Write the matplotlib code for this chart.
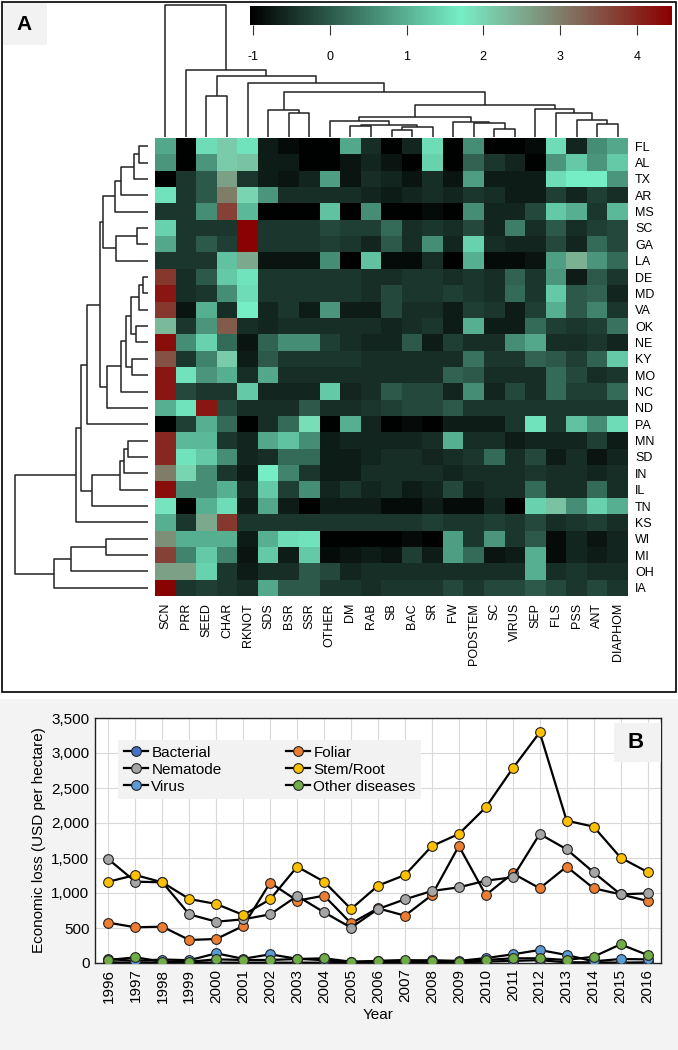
import matplotlib
matplotlib.use("Agg")
import matplotlib.pyplot as plt
import numpy as np
from matplotlib.colors import LinearSegmentedColormap, Normalize
from matplotlib.cm import ScalarMappable
from matplotlib.patches import Rectangle
from matplotlib.ticker import FuncFormatter

# ---------------- panel A data ----------------
diseases = ["SCN", "PRR", "SEED", "CHAR", "RKNOT", "SDS", "BSR", "SSR", "OTHER", "DM",
            "RAB", "SB", "BAC", "SR", "FW", "PODSTEM", "SC", "VIRUS", "SEP", "FLS",
            "PSS", "ANT", "DIAPHOM"]
states = ["FL", "AL", "TX", "AR", "MS", "SC", "GA", "LA", "DE", "MD", "VA", "OK", "NE",
          "KY", "MO", "NC", "ND", "PA", "MN", "SD", "IN", "IL", "TN", "KS", "WI", "MI",
          "OH", "IA"]

z = np.array([
    [0.9, -1.0, 1.5, 2.1, 1.6, -0.7, -0.9, -1.0, -1.0, 0.9, -0.5, -1.0, -0.6, 1.5, -1.0, 0.6, -1.0, -1.0, -0.9, 1.5, -0.6, 0.6, 0.9],
    [0.7, -1.0, 0.7, 2.1, 2.2, -0.7, -0.7, -1.0, -1.0, -0.8, -0.6, -0.8, -1.0, 1.4, -1.0, 0.1, -0.4, -0.6, -1.0, 0.7, 1.3, 0.7, 1.3],
    [-1.0, -0.4, 0.0, 2.6, -0.4, -0.7, -0.8, -0.6, 0.8, -0.8, -0.5, -0.6, -0.8, -0.5, -0.8, 0.8, -0.7, -0.7, -0.7, 1.5, 1.7, 1.7, 0.7],
    [1.6, -0.4, 0.0, 3.0, 2.0, 0.7, -0.5, -0.5, -0.5, -0.5, -0.6, -0.7, -0.6, -0.5, -0.6, -0.4, -0.5, -0.7, -0.7, -0.3, -0.6, -0.3, -0.5],
    [-0.4, -0.4, 0.6, 3.7, 1.1, -1.0, -1.0, -1.0, 1.2, -1.0, 0.6, -1.0, -1.0, -0.9, -1.0, 0.6, -0.6, -0.6, -0.2, 1.3, 1.0, -0.4, 1.1],
    [1.4, -0.4, -0.4, -0.4, 4.4, -0.4, -0.4, -0.4, -0.2, -0.3, -0.3, 0.2, -0.5, -0.4, -0.5, -0.2, -0.6, 0.4, -0.5, 0.0, -0.5, -0.3, -0.2],
    [0.9, -0.4, 0.0, -0.3, 4.4, -0.4, -0.4, -0.4, -0.3, -0.4, -0.6, 0.0, -0.5, 0.6, -0.6, 1.4, -0.5, -0.6, -0.6, -0.2, -0.6, 0.2, -0.2],
    [-0.4, -0.4, -0.4, 1.2, 2.5, -0.8, -0.8, -0.8, 0.6, -1.0, 1.2, -0.9, -0.9, -0.5, -1.0, 1.0, -0.9, -0.9, -0.8, 0.8, 2.4, 0.7, 0.2],
    [3.8, -0.5, 0.0, 1.3, 1.6, -0.4, -0.4, -0.4, -0.4, -0.4, -0.5, -0.5, -0.4, -0.4, -0.5, -0.4, -0.5, 0.1, -0.4, 0.7, -0.7, 0.0, -0.4],
    [4.2, -0.5, -0.4, 0.6, 1.5, -0.4, -0.4, -0.4, -0.4, -0.4, -0.5, -0.2, -0.4, -0.4, -0.3, -0.4, -0.5, 0.2, -0.4, 1.3, 0.0, 0.1, -0.6],
    [3.8, -0.8, 1.0, -0.5, 1.7, -0.6, -0.4, -0.7, 0.7, -0.7, -0.7, -0.2, -0.5, -0.5, -0.7, -0.3, -0.4, -0.7, -0.3, 1.0, 0.0, 0.5, -0.4],
    [2.3, -0.4, 0.7, 3.4, -0.5, -0.6, -0.5, -0.5, -0.5, -0.5, -0.5, -0.6, -0.5, -0.4, -0.7, 1.0, -0.7, -0.7, 0.2, -0.3, -0.4, -0.3, 0.3],
    [4.3, 0.6, 1.4, 0.2, -0.8, 0.1, 0.6, 0.6, -0.3, -0.5, -0.6, -0.6, 0.0, -0.7, -0.3, -0.5, -0.5, 0.6, 0.9, -0.5, -0.5, -0.4, -0.6],
    [3.5, -0.4, 0.5, 2.1, -0.7, 0.0, -0.4, -0.4, -0.4, -0.4, -0.5, -0.5, -0.5, -0.5, -0.5, 0.3, -0.4, -0.4, 0.1, 0.0, -0.3, 0.1, 1.3],
    [4.2, 1.6, 0.7, 1.0, -0.5, 0.9, -0.5, -0.5, -0.5, -0.5, -0.5, -0.5, -0.5, -0.5, 0.1, 0.0, -0.5, -0.5, -0.5, 0.2, -0.2, -0.5, -0.4],
    [4.2, -0.2, -0.4, -0.4, 1.3, -0.6, -0.6, -0.6, 1.3, -0.6, -0.5, 0.0, -0.2, -0.2, -0.6, 0.6, -0.6, -0.2, -0.5, 0.2, -0.3, -0.3, 0.2],
    [1.0, 1.6, 4.2, -0.2, -0.5, -0.5, -0.5, 0.0, -0.5, -0.5, -0.4, -0.3, -0.2, -0.2, 0.0, -0.4, -0.4, -0.4, -0.4, -0.4, -0.4, -0.4, -0.4],
    [-1.0, -0.3, 1.0, 0.2, -1.0, -0.5, 0.2, 1.9, -1.0, 1.0, -0.6, -1.0, -0.9, -1.0, -0.7, -0.7, -0.7, -0.4, 1.6, -0.4, 1.2, 0.6, 1.5],
    [4.0, 1.1, 1.1, -0.4, -0.6, 0.9, 1.2, 0.6, -0.7, -0.6, -0.6, -0.6, -0.6, -0.5, 1.0, -0.5, -0.5, -0.7, -0.6, -0.6, -0.6, -0.3, -0.7],
    [4.0, 1.6, 1.3, 0.6, -0.6, -0.5, 0.2, 0.2, -0.7, -0.7, -0.6, -0.5, -0.5, -0.6, -0.5, -0.4, 0.2, -0.5, -0.2, -0.7, -0.5, -0.8, -0.6],
    [3.0, 2.0, 0.6, -0.4, -0.7, 1.7, 0.5, -0.4, -0.7, -0.7, -0.5, -0.5, -0.5, -0.5, -0.6, -0.5, -0.5, -0.5, -0.4, -0.5, -0.5, -0.6, -0.5],
    [4.3, 0.6, 0.6, 1.0, -0.5, 1.3, -0.3, 0.6, -0.6, -0.4, -0.6, -0.5, -0.7, -0.6, -0.2, -0.6, -0.5, -0.5, 0.2, -0.5, -0.5, 0.2, -0.5],
    [1.8, -1.0, 1.0, 1.5, -0.7, 0.9, -0.7, -1.0, -0.7, -0.7, -0.7, -0.9, -0.9, -0.7, -0.9, -0.9, -0.6, -1.0, 1.4, 2.2, 0.6, 1.4, 1.0],
    [1.0, -0.4, 2.5, 3.8, -0.4, -0.4, -0.4, -0.4, -0.4, -0.4, -0.4, -0.4, -0.4, -0.3, -0.4, -0.4, -0.3, -0.4, -0.2, -0.5, -0.4, -0.3, -0.5],
    [2.8, 1.0, 1.0, 1.0, -0.7, 1.0, 1.5, 1.6, -1.0, -1.0, -1.0, -1.0, -0.9, -1.0, 0.8, -0.4, 0.7, -0.4, 0.0, -0.9, -0.6, -0.8, -0.6],
    [3.7, 0.5, 1.3, 0.5, -0.8, 1.3, -0.7, 1.3, -0.9, -0.8, -0.7, -0.8, -0.3, -0.7, 0.8, 0.2, -0.8, -0.7, 1.0, -0.9, -0.6, -0.7, -0.6],
    [2.6, 2.6, 1.4, -0.4, -0.7, -0.5, -0.5, 0.0, -0.2, -0.6, -0.5, -0.5, -0.5, -0.5, -0.5, -0.5, -0.5, -0.5, 1.0, -0.5, -0.4, -0.5, -0.5],
    [4.4, -0.4, -0.3, -0.4, -0.5, 0.9, 0.0, 0.0, -0.4, -0.4, -0.5, -0.4, -0.4, -0.4, -0.2, -0.4, -0.2, -0.2, 0.0, -0.2, -0.4, -0.2, -0.4],
])

# merges (child a, child b, height); leaves are 0..n-1 in display order,
# merged clusters get ids n, n+1, ...
col_links = [
    (6, 7, 24), (5, 23, 27), (2, 3, 41), (9, 10, 11), (11, 12, 7), (27, 13, 10),
    (26, 28, 12), (8, 29, 16), (16, 17, 8), (15, 31, 14), (14, 32, 15), (30, 33, 20),
    (21, 22, 13), (20, 35, 17), (19, 36, 24), (18, 37, 28), (34, 38, 32), (24, 39, 45),
    (4, 40, 54), (25, 41, 61), (1, 42, 68), (0, 43, 133),
]
row_links = [
    (0, 1, 9), (28, 2, 14), (29, 3, 27), (30, 4, 33), (5, 6, 11), (32, 7, 32),
    (31, 33, 45), (8, 9, 5), (35, 10, 9), (11, 12, 12), (36, 37, 17), (13, 14, 16),
    (38, 39, 22), (40, 15, 27), (41, 16, 41), (34, 42, 48), (43, 17, 61), (18, 19, 20),
    (45, 20, 24), (46, 21, 28), (47, 22, 56), (44, 48, 67), (49, 23, 72), (24, 25, 42),
    (51, 26, 77), (52, 27, 94), (50, 53, 133),
]

# ---------------- panel B data ----------------
years = list(range(1996, 2017))
bacterial = [10, 5, 10, 10, 5, 5, 5, 5, 5, 5, 5, 10, 10, 10, 20, 30, 40, 10, 10, 5, 10]
foliar = [576, 510, 519, 329, 343, 529, 1148, 890, 962, 567, 781, 676, 971, 1671, 971,
          1281, 1067, 1376, 1067, 981, 886]
nematode = [1481, 1162, 1152, 695, 590, 624, 695, 957, 724, 505, 771, 910, 1029, 1081, 1176,
            1224, 1843, 1624, 1295, 981, 995]
stem_root = [1162, 1257, 1152, 914, 843, 686, 910, 1376, 1162, 771, 1105, 1257, 1671, 1843,
             2224, 2781, 3295, 2033, 1948, 1505, 1300]
virus = [57, 30, 50, 40, 138, 60, 124, 60, 40, 10, 30, 30, 40, 30, 70, 124, 186, 114, 24, 57, 52]
other = [43, 81, 19, 19, 52, 43, 43, 57, 67, 19, 29, 43, 29, 19, 43, 67, 67, 43, 90, 267, 114]

series_names = ["Bacterial", "Foliar", "Nematode", "Stem/Root", "Virus", "Other diseases"]
series_vals = [bacterial, foliar, nematode, stem_root, virus, other]
series_cols = ["#4472C4", "#ED7D31", "#A5A5A5", "#FFC000", "#5B9BD5", "#70AD47"]

# ---------------- layout helpers ----------------
W, H = 678, 1050
plt.rcParams['axes.unicode_minus'] = False
plt.rcParams['font.family'] = ['Liberation Sans', 'DejaVu Sans']
fig = plt.figure(figsize=(W / 100, H / 100), dpi=100)


def px(x0, y0, x1, y1):
    return [x0 / W, 1 - y1 / H, (x1 - x0) / W, (y1 - y0) / H]


def dendro(ax, links, n, orient):
    pos = {i: float(i) for i in range(n)}
    hgt = {i: 0.0 for i in range(n)}
    for k, (a, b, h) in enumerate(links):
        xs = [pos[a], pos[a], pos[b], pos[b]]
        ys = [hgt[a], h, h, hgt[b]]
        if orient == "top":
            ax.plot(xs, ys, color="#222222", lw=1.1, solid_capstyle="butt")
        else:
            ax.plot(ys, xs, color="#222222", lw=1.1, solid_capstyle="butt")
        pos[n + k] = (pos[a] + pos[b]) / 2
        hgt[n + k] = h


# ---------------- panel A ----------------
fig.patches.append(Rectangle((2 / W, 1 - 692 / H), 674 / W, 690 / H, transform=fig.transFigure,
                             fill=False, edgecolor="black", lw=1.2))
fig.patches.append(Rectangle((3 / W, 1 - 45 / H), 44 / W, 42 / H, transform=fig.transFigure,
                             facecolor="#f2f2f2", edgecolor="none"))
fig.text(24 / W, 1 - 25 / H, "A", fontsize=15, fontweight="bold", ha="center", va="center")

cmap = LinearSegmentedColormap.from_list("bga", ["black", "#76EEC6", "#8B0000"])
norm = Normalize(vmin=-1.04, vmax=4.46)

axh = fig.add_axes(px(155, 138, 628, 596))
axh.imshow(z, cmap=cmap, norm=norm, aspect="auto", interpolation="nearest")
axh.set_xticks(range(len(diseases)))
axh.set_xticklabels(diseases, rotation=90, fontsize=9)
axh.set_yticks(range(len(states)))
axh.set_yticklabels(states, fontsize=9)
axh.yaxis.tick_right()
axh.tick_params(length=0, pad=5)
for s in axh.spines.values():
    s.set_visible(False)

axt = fig.add_axes(px(155, 3, 628, 137))
dendro(axt, col_links, len(diseases), "top")
axt.set_xlim(-0.5, len(diseases) - 0.5)
axt.set_ylim(0, 135)
axt.axis("off")

axl = fig.add_axes(px(13, 138, 148, 596))
dendro(axl, row_links, len(states), "left")
axl.set_ylim(len(states) - 0.5, -0.5)
axl.set_xlim(135, 0)
axl.axis("off")

axc = fig.add_axes(px(250, 6, 672, 25))
cb = fig.colorbar(ScalarMappable(norm=norm, cmap=cmap), cax=axc, orientation="horizontal")
cb.set_ticks([-1, 0, 1, 2, 3, 4])
cb.outline.set_visible(False)
axc.tick_params(length=7, width=0.8, pad=12, labelsize=9, color="#333333")

# ---------------- panel B ----------------
fig.patches.append(Rectangle((0, 0), 1, 1 - 699 / H, transform=fig.transFigure,
                             facecolor="#f3f3f3", edgecolor="none", zorder=-5))

axb = fig.add_axes(px(95, 718, 661, 963))
handles = {}
for name, vals, col in zip(series_names, series_vals, series_cols):
    handles[name], = axb.plot(years, vals, color="black", lw=1.6, marker="o", ms=7, mfc=col,
                              mec="#222222", mew=0.8, label=name, zorder=3)
axb.set_xlim(1995.5, 2016.5)
axb.set_ylim(0, 3500)
axb.set_yticks(range(0, 3501, 500))
axb.yaxis.set_major_formatter(FuncFormatter(lambda v, p: f"{int(v):,}"))
axb.set_xticks(years)
axb.set_xticklabels([str(y) for y in years], rotation=90, fontsize=11)
axb.tick_params(axis="y", labelsize=11)
axb.tick_params(length=0, pad=4)
axb.grid(True, color="#d9d9d9", lw=0.8)
axb.set_axisbelow(True)
for s in axb.spines.values():
    s.set_color("#222222")
    s.set_linewidth(1.0)
axb.set_ylabel("Economic loss (USD per hectare)", fontsize=11)
axb.set_xlabel("Year", fontsize=11)

# legend filled row by row: Bacterial/Foliar, Nematode/Stem-Root, Virus/Other
order = ["Bacterial", "Nematode", "Virus", "Foliar", "Stem/Root", "Other diseases"]
leg = axb.legend([handles[k] for k in order], order, loc="upper left",
                 bbox_to_anchor=(0.028, 0.94), ncol=2, fontsize=11,
                 frameon=True, facecolor="#f2f2f2", edgecolor="none", framealpha=1,
                 handlelength=1.6, handletextpad=0.2, columnspacing=4.2, labelspacing=0.2,
                 borderpad=0.35)
leg.get_frame().set_boxstyle("square", pad=0)
axb.add_patch(Rectangle((0.917, 0.82), 0.083, 0.16, transform=axb.transAxes,
                        facecolor="#f2f2f2", edgecolor="none", zorder=4))
axb.text(0.955, 0.9, "B", transform=axb.transAxes, fontsize=16, fontweight="bold",
         ha="center", va="center", zorder=5)

fig.savefig("out.png", dpi=100)
